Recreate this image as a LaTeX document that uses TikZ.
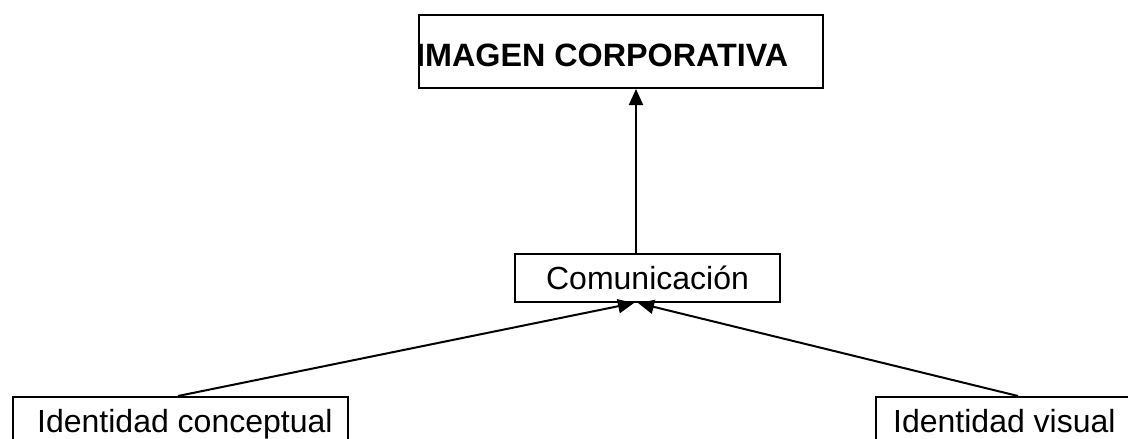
\documentclass[tikz,border=0pt]{standalone}
\usepackage{fontspec}
\setmainfont{Liberation Sans}
\usetikzlibrary{arrows.meta,calc}
\begin{document}
\begin{tikzpicture}[x=1pt,y=-1pt,
  box/.style={draw,line width=2pt,inner sep=0pt,anchor=north west},
  txt/.style={font=\fontsize{32}{38}\selectfont,inner sep=0pt},
  arr/.style={line width=2pt,-{Triangle[length=16pt,width=14pt]}}]
\useasboundingbox (0,0) rectangle (1128,439);
\clip (0,0) rectangle (1128,439);
\node[box,minimum width=404pt,minimum height=73pt] (top) at (418,14) {};
\node[txt,anchor=base west,font=\fontsize{32.3}{38}\selectfont\bfseries] (toptxt) at (416,66) {IMAGEN CORPORATIVA};
\node[box,txt,minimum width=265pt,minimum height=48pt] (mid) at (514,253) {Comunicación};
\node[box,minimum width=335pt,minimum height=80pt] (lc) at (12,396) {};
\node[txt,anchor=base west] (lctxt) at (37,432) {Identidad conceptual};
\node[box,minimum width=300pt,minimum height=80pt] (rc) at (875,396) {};
\node[txt,anchor=base west] (rctxt) at (893,432) {Identidad visual};
\draw[arr] ([xshift=166pt]lc.north west) -- ([xshift=-13.5pt]mid.south);
\draw[arr] ([xshift=143pt]rc.north west) -- ([xshift=-9.5pt]mid.south);
\draw[arr] ([xshift=-11.5pt]mid.north) -- ([xshift=15pt]top.south);
\end{tikzpicture}
\end{document}
